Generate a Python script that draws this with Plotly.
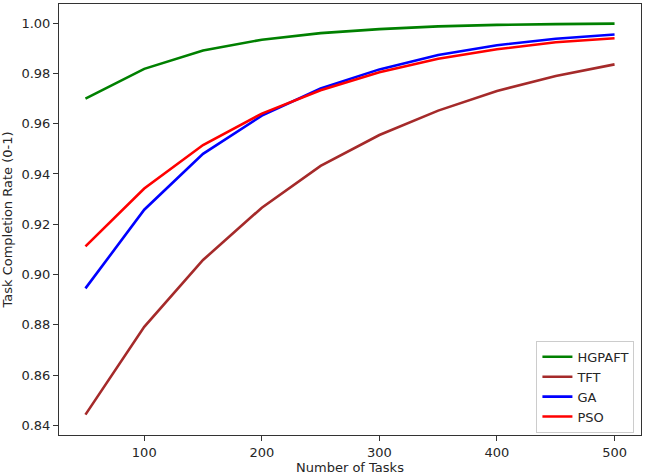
import plotly.graph_objects as go

tasks = [50, 100, 150, 200, 250, 300, 350, 400, 450, 500]
hgpaft = [0.9700, 0.9818, 0.9891, 0.9934, 0.9960, 0.9976, 0.9987, 0.9993, 0.9996, 0.9998]
tft = [0.8443, 0.8792, 0.9058, 0.9266, 0.9432, 0.9555, 0.9652, 0.9730, 0.9790, 0.9836]
ga = [0.8945, 0.9258, 0.9480, 0.9632, 0.9740, 0.9816, 0.9873, 0.9912, 0.9938, 0.9955]
pso = [0.9112, 0.9342, 0.9515, 0.9640, 0.9733, 0.9805, 0.9858, 0.9896, 0.9924, 0.9940]

series = [("HGPAFT", hgpaft, "#008000"), ("TFT", tft, "#A52A2A"),
          ("GA", ga, "#0000FF"), ("PSO", pso, "#FF0000")]

fig = go.Figure()
for name, vals, col in series:
    fig.add_trace(go.Scatter(x=tasks, y=vals, mode="lines", name=name,
                             line=dict(color=col, width=2.6)))

font = dict(family="DejaVu Sans", size=13, color="#262626")
axis_common = dict(showgrid=False, zeroline=False, showline=True, linecolor="#333333",
                   linewidth=1, mirror=True, ticks="outside", ticklen=5, tickwidth=1,
                   tickcolor="#333333", tickfont=font)

fig.update_layout(
    width=645, height=476,
    margin=dict(l=59, r=3, t=3, b=39),
    plot_bgcolor="white", paper_bgcolor="white",
    font=font,
    xaxis=dict(range=[27.5, 522.5], tickvals=[100, 200, 300, 400, 500],
               title=dict(text="Number of Tasks", font=font, standoff=4), **axis_common),
    yaxis=dict(range=[0.8362, 1.0076], tickvals=[0.84, 0.86, 0.88, 0.90, 0.92, 0.94, 0.96, 0.98, 1.00],
               tickformat=".2f",
               title=dict(text="Task Completion Rate (0-1)", font=font, standoff=6), **axis_common),
    legend=dict(x=0.9887, y=0.005, xanchor="right", yanchor="bottom",
                bordercolor="#cccccc", borderwidth=1, bgcolor="white",
                font=font, itemwidth=30, tracegroupgap=0),
    showlegend=True,
)

fig.write_html("out.html")
